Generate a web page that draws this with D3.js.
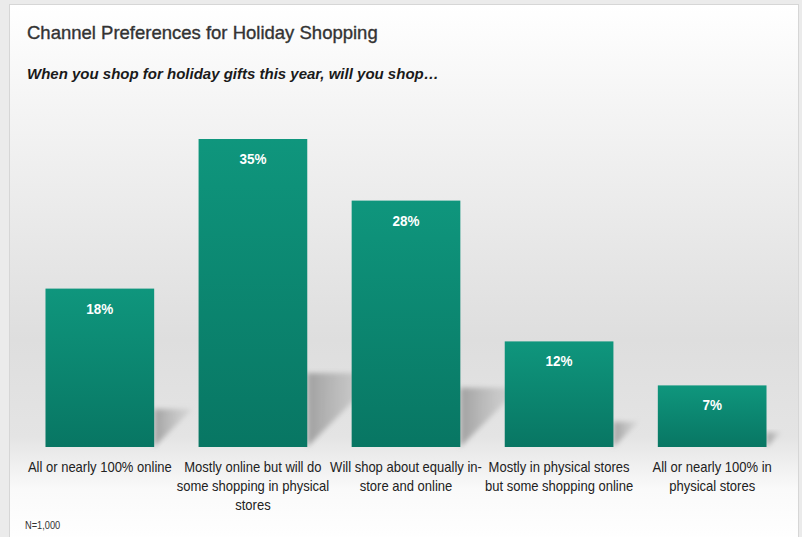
<!DOCTYPE html>
<html>
<head>
<meta charset="utf-8">
<title>Channel Preferences for Holiday Shopping</title>
<script src="https://d3js.org/d3.v7.min.js"></script>
<style>
  body { margin: 0; background: #ebebeb; }
  svg { display: block; }
</style>
</head>
<body>
<div class="chart"></div>
<script>
let categories = [
  "All or nearly 100% online",
  "Mostly online but will do some shopping in physical stores",
  "Will shop about equally in-store and online",
  "Mostly in physical stores but some shopping online",
  "All or nearly 100% in physical stores"
];
let tickLines = [
  ["All or nearly 100% online"],
  ["Mostly online but will do", "some shopping in physical", "stores"],
  ["Will shop about equally in-", "store and online"],
  ["Mostly in physical stores", "but some shopping online"],
  ["All or nearly 100% in", "physical stores"]
];
let values = [18, 35, 28, 12, 7];

let width = 802, height = 537;

let svg = d3.select(".chart").append("svg")
    .attr("width", width)
    .attr("height", height);

let defs = svg.append("defs");

let bg = defs.append("linearGradient").attr("id", "bg")
    .attr("x1", 0).attr("y1", 0).attr("x2", 0).attr("y2", 1);
bg.append("stop").attr("offset", "0%").attr("stop-color", "#ffffff");
bg.append("stop").attr("offset", "18%").attr("stop-color", "#f5f5f5");
bg.append("stop").attr("offset", "62%").attr("stop-color", "#dedede");
bg.append("stop").attr("offset", "80%").attr("stop-color", "#e4e4e4");
bg.append("stop").attr("offset", "90%").attr("stop-color", "#fafafa");
bg.append("stop").attr("offset", "100%").attr("stop-color", "#ffffff");

let barGrad = defs.append("linearGradient").attr("id", "bar")
    .attr("x1", 0).attr("y1", 0).attr("x2", 0).attr("y2", 1);
barGrad.append("stop").attr("offset", "0%").attr("stop-color", "#0f967d");
barGrad.append("stop").attr("offset", "100%").attr("stop-color", "#087663");

let shGrad = defs.append("linearGradient").attr("id", "shadow")
    .attr("x1", 0).attr("y1", 0).attr("x2", 1).attr("y2", 0);
shGrad.append("stop").attr("offset", "0%").attr("stop-color", "#999999").attr("stop-opacity", 0.9);
shGrad.append("stop").attr("offset", "100%").attr("stop-color", "#c0c0c0").attr("stop-opacity", 0.35);

defs.append("filter").attr("id", "blur")
    .attr("x", "-20%").attr("y", "-20%").attr("width", "140%").attr("height", "140%")
    .append("feGaussianBlur").attr("stdDeviation", 2.5);

// panel
svg.append("rect")
    .attr("x", 9.5).attr("y", 4.5)
    .attr("width", 789).attr("height", 540)
    .style("fill", "url(#bg)")
    .style("stroke", "#d6d6d6");

let x = d3.scaleBand()
    .domain(categories)
    .range([21, 791])
    .paddingInner(0.29)
    .paddingOuter(0.16);

let y = d3.scaleLinear()
    .domain([0, 35])
    .range([447, 139]);

// shadows
svg.selectAll(".shadow")
    .data(values)
    .enter()
    .append("path")
    .attr("class", "shadow")
    .attr("filter", "url(#blur)")
    .style("fill", "url(#shadow)")
    .attr("d", function (d, i) {
        let x1 = x(categories[i]) + x.bandwidth();
        let s = (y(0) - y(d)) * 0.24;
        return "M" + x1 + "," + y(0) + "L" + x1 + "," + (y(0) - s) +
            "L" + (x1 + s) + "," + (y(0) - s) + "Z";
    });

// bars
svg.selectAll(".bar")
    .data(values)
    .enter()
    .append("rect")
    .attr("class", "bar")
    .attr("x", function (d, i) { return x(categories[i]); })
    .attr("y", function (d) { return y(d); })
    .attr("width", x.bandwidth())
    .attr("height", function (d) { return y(0) - y(d); })
    .style("fill", "url(#bar)");

svg.selectAll(".val")
    .data(values)
    .enter()
    .append("text")
    .attr("class", "val")
    .attr("transform", function (d, i) {
        return "translate(" + (x(categories[i]) + x.bandwidth() / 2) + "," + (y(d) + 25) + ") scale(0.9,1)";
    })
    .attr("text-anchor", "middle")
    .style("font-family", "'Liberation Sans', Arial, sans-serif")
    .style("font-weight", "bold")
    .style("font-size", "15px")
    .style("fill", "#ffffff")
    .text(function (d) { return d + "%"; });

// category labels via axis
let xAxis = d3.axisBottom(x).tickSize(0).tickFormat("");
let axisG = svg.append("g")
    .attr("transform", "translate(0," + y(0) + ")")
    .call(xAxis);
axisG.select(".domain").remove();

axisG.selectAll(".tick").each(function (d, i) {
    let t = d3.select(this).append("text")
        .attr("transform", "scale(0.93,1)")
        .attr("text-anchor", "middle")
        .style("font-family", "'Liberation Sans', Arial, sans-serif")
        .style("font-size", "14px")
        .style("fill", "#222");
    tickLines[i].forEach(function (line, j) {
        t.append("tspan").attr("x", 0).attr("y", 25 + j * 19).text(line);
    });
});

svg.append("text")
    .attr("x", 27).attr("y", 39)
    .style("font-family", "'Liberation Sans', Arial, sans-serif")
    .style("font-size", "18.5px")
    .style("fill", "#333")
    .style("stroke", "#333")
    .style("stroke-width", 0.35)
    .text("Channel Preferences for Holiday Shopping");

svg.append("text")
    .attr("x", 27).attr("y", 79)
    .style("font-family", "'Liberation Sans', Arial, sans-serif")
    .style("font-size", "15px")
    .style("font-weight", "bold")
    .style("font-style", "italic")
    .style("fill", "#1a1a1a")
    .text("When you shop for holiday gifts this year, will you shop…");

svg.append("text")
    .attr("transform", "translate(25,529) scale(0.88,1)")
    .style("font-family", "'Liberation Sans', Arial, sans-serif")
    .style("font-size", "10.5px")
    .style("fill", "#333")
    .text("N=1,000");
</script>
</body>
</html>
